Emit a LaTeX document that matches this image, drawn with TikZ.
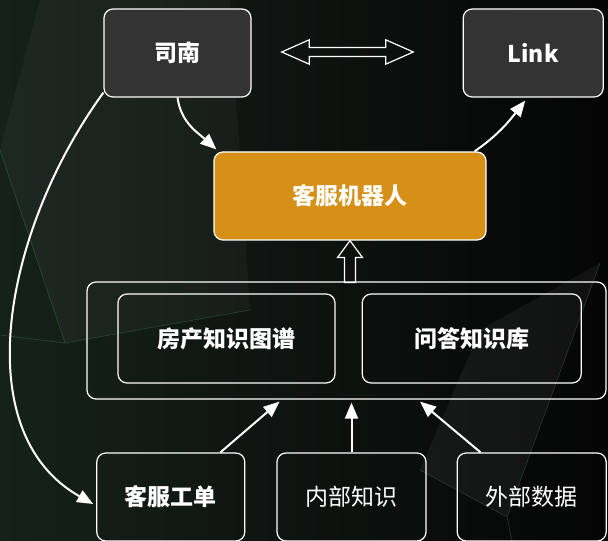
\documentclass[tikz,border=0pt]{standalone}
\usepackage{fontspec}
\setmainfont{Noto Sans CJK SC}
\usetikzlibrary{positioning,arrows.meta}
\definecolor{boxgray}{RGB}{51,51,51}
\definecolor{botorange}{RGB}{214,143,23}
\definecolor{bgleft}{RGB}{22,33,27}
\definecolor{bgright}{RGB}{5,5,5}
\definecolor{edgegreen}{RGB}{80,150,100}
\tikzset{%
  every box/.style={
    draw=white,
    line width=1.2pt,
    rounded corners=9pt,
    text=white,
    inner sep=0pt,
    minimum height=88pt,
    font=\fontsize{23}{23}\selectfont
  },
  box bold/.style={every box, font=\fontsize{23}{23}\selectfont\bfseries},
  box gray/.style={box bold, fill=boxgray},
  box orange/.style={box bold, fill=botorange},
}

\begin{document}
\begin{tikzpicture}[x=1pt,y=1pt,>={Triangle[length=16pt,width=13pt]}]
        \tikzstyle{flow}=[->,white,line width=2pt]
        \tikzstyle{hollow}=[draw=white,line width=1.2pt,line join=miter]

        \useasboundingbox (0,0) rectangle (608,541);
        % background
        \fill[left color=bgleft,right color=bgright] (0,0) rectangle (608,541);
        \fill[white,opacity=0.035] (0,391) -- (65,198) -- (250,231) -- (230,541) -- (40,541) -- cycle;
        \fill[white,opacity=0.05] (600,278) -- (507,24) -- (420,71) -- (480,211) -- cycle;
        \draw[edgegreen,opacity=0.3,line width=0.7pt] (0,391) -- (65,198) -- (0,206) (65,198) -- (250,231);
        \draw[edgegreen,opacity=0.3,line width=0.7pt] (600,278) -- (507,24) -- (512,0) (507,24) -- (420,71);

        % top row
        \node[box gray,minimum width=147pt] (sinan) at (177.5,488) {司南};
        \node[box gray,minimum width=140pt,right=211pt of sinan] (link) {Link};
        \coordinate (swap) at (347.5,489);
        \draw[hollow] (swap) ++(-65.8,0) -- ++(27.6,12.2) -- ++(0,-7.7) -- ++(76.4,0) -- ++(0,7.7)
            -- ++(27.6,-12.2) -- ++(-27.6,-12.2) -- ++(0,7.7) -- ++(-76.4,0) -- ++(0,-7.7) -- cycle;

        % bot
        \node[box orange,minimum width=272pt] (bot) at (350,345) {客服机器人};

        % knowledge
        \node[every box,minimum width=519pt,minimum height=117pt] (store) at (346.5,200.5) {};
        \node[box bold,minimum width=217pt,minimum height=89pt] (kg) at (226.5,202.5) {房产知识图谱};
        \node[box bold,minimum width=219pt,minimum height=89pt,right=26pt of kg] (qa) {问答知识库};
        \draw[hollow] (bot.south) -- ++(12.5,-17) -- ++(-7,0) -- ++(0,-25) -- ++(-11,0) -- ++(0,25) -- ++(-7,0) -- cycle;

        % sources
        \node[every box,minimum width=149pt] (inner) at (351.5,44) {内部知识};
        \node[box bold,minimum width=148pt,left=31pt of inner] (ticket) {客服工单};
        \node[every box,minimum width=149pt,right=30pt of inner] (outer) {外部数据};

        \draw[flow] ([xshift=-25pt]ticket.north east) -- ([xshift=-67pt,yshift=-2pt]store.south);
        \draw[flow] (inner.north) -- ([yshift=-3pt]inner.north |- store.south);
        \draw[flow] ([xshift=24pt]outer.north west) -- ([xshift=73.5pt,yshift=-2pt]store.south);

        \draw[flow] (sinan.south) to[out=-82,in=138] ([xshift=3pt,yshift=2pt]bot.north west);
        \draw[flow] ([xshift=-12pt]bot.north east) to[out=35,in=-128] ([xshift=-8pt,yshift=-3pt]link.south);
        \draw[flow] ([yshift=5pt]sinan.south west) .. controls +(-99,-136) and +(-128,72) .. ([xshift=-3pt,yshift=-7pt]ticket.west);
    \end{tikzpicture}
\end{document}
